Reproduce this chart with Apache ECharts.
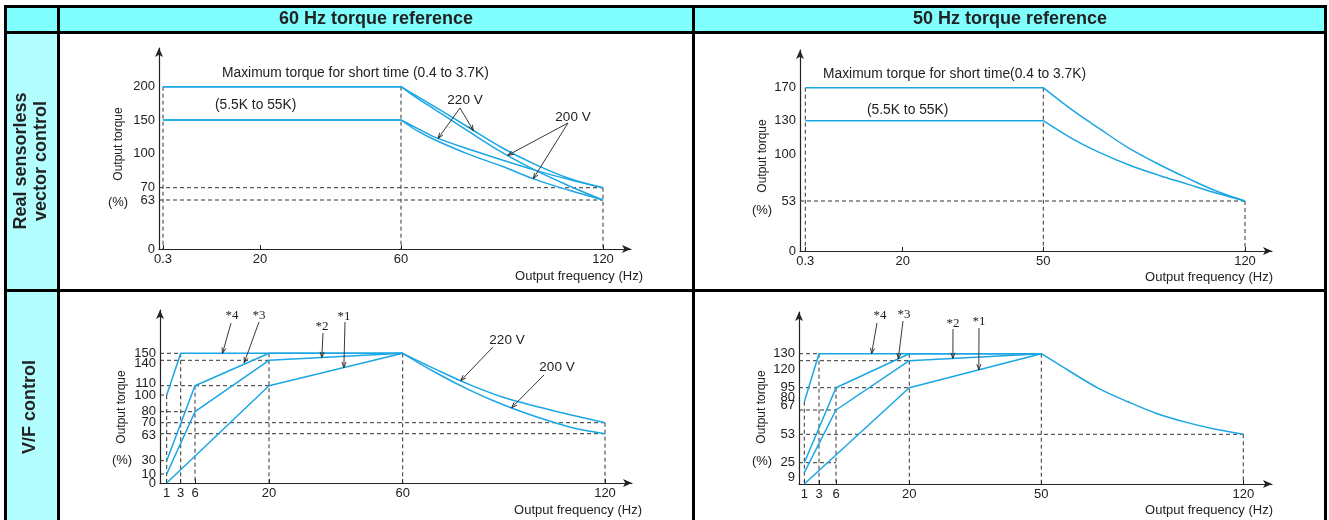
<!DOCTYPE html>
<html>
<head>
<meta charset="utf-8">
<script src="https://cdn.jsdelivr.net/npm/echarts@6/dist/echarts.min.js"></script>
<style>
html, body { margin: 0; padding: 0; background: #fff; }
#chart { width: 1329px; height: 520px; }
</style>
</head>
<body>
<div id="chart"></div>
<script>
// ---- data: output frequency (Hz) / output torque (%) ----
// real sensorless vector control, 60 Hz torque reference
var rsv60Freq = [0.3, 20, 60, 120];
var rsv60Torque = [0, 63, 70, 100, 150, 200];
var rsv60Max220 = [[0.3, 200], [60, 200], [65, 185], [70, 170], [80, 139], [90, 108], [100, 90], [110, 78], [120, 70]];
var rsv60Max200 = [[0.3, 200], [60, 200], [65, 182], [70, 166], [80, 133], [90, 101], [100, 85], [110, 71.5], [120, 63]];
var rsv60Std220 = [[0.3, 150], [60, 150], [65, 137], [70, 124], [80, 106], [90, 94], [100, 85], [110, 77], [120, 70]];
var rsv60Std200 = [[0.3, 150], [60, 150], [65, 133], [70, 120], [80, 99], [90, 88.5], [100, 77], [110, 68.5], [120, 63]];
var rsv60HGuide = [[70, 120], [63, 120]];
var rsv60VGuide = [[0.3, 200], [60, 200], [120, 70]];

// real sensorless vector control, 50 Hz torque reference
var rsv50Freq = [0.3, 20, 50, 120];
var rsv50Torque = [0, 53, 100, 130, 170];
var rsv50Max = [[0.3, 170], [50, 170], [60, 143], [70, 122], [80, 105], [90, 90], [100, 76], [110, 63], [120, 53]];
var rsv50Std = [[0.3, 130], [50, 130], [60, 114], [70, 101], [80, 89], [90, 79], [100, 70], [110, 61], [120, 53]];
var rsv50HGuide = [[53, 120]];
var rsv50VGuide = [[0.3, 170], [50, 170], [120, 53]];

// V/F control, 60 Hz torque reference
var vf60Freq = [1, 3, 6, 20, 60, 120];
var vf60Torque = [0, 10, 30, 63, 70, 80, 100, 110, 140, 150];
var vf60Boost4 = [[1, 100], [3, 150], [60, 150]];
var vf60Boost3 = [[1, 30], [6, 110], [20, 150], [60, 150]];
var vf60Boost2 = [[1, 10], [6, 80], [20, 140], [60, 150]];
var vf60Boost1 = [[1, 0], [20, 110], [60, 150]];
var vf60At220 = [[60, 150], [70, 129], [80, 111], [90, 97], [100, 86], [110, 77], [120, 70]];
var vf60At200 = [[60, 150], [70, 125], [80, 105], [90, 88], [100, 75], [110, 67], [120, 63]];
var vf60HGuide = [[150, 3], [140, 20], [110, 20], [100, 1], [80, 6], [70, 120], [63, 120], [30, 1], [10, 1]];
var vf60VGuide = [[1, 100], [3, 150], [6, 110], [20, 150], [60, 150], [120, 70]];

// V/F control, 50 Hz torque reference
var vf50Freq = [1, 3, 6, 20, 50, 120];
var vf50Torque = [9, 25, 53, 67, 80, 95, 120, 130];
var vf50Boost4 = [[1, 80], [3, 130], [50, 130]];
var vf50Boost3 = [[1, 25], [6, 95], [20, 130], [50, 130]];
var vf50Boost2 = [[1, 9], [6, 67], [20, 120], [50, 130]];
var vf50Boost1 = [[1, 0], [20, 95], [50, 130]];
var vf50Decay = [[50, 130], [60, 110], [70, 94], [80, 80], [90, 65], [100, 60], [110, 56], [120, 53]];
var vf50HGuide = [[130, 3], [120, 20], [95, 20], [67, 6], [53, 120], [25, 6]];
var vf50VGuide = [[1, 80], [3, 130], [6, 95], [20, 130], [50, 130], [120, 53]];

var panels = [
    { freq: rsv60Freq, torque: rsv60Torque, knee: 60, curves: [rsv60Max220, rsv60Max200, rsv60Std220, rsv60Std200], hGuide: rsv60HGuide, vGuide: rsv60VGuide },
    { freq: rsv50Freq, torque: rsv50Torque, knee: 50, curves: [rsv50Max, rsv50Std], hGuide: rsv50HGuide, vGuide: rsv50VGuide },
    { freq: vf60Freq, torque: vf60Torque, knee: 60, curves: [vf60Boost4, vf60Boost3, vf60Boost2, vf60Boost1, vf60At220, vf60At200], hGuide: vf60HGuide, vGuide: vf60VGuide },
    { freq: vf50Freq, torque: vf50Torque, knee: 50, curves: [vf50Boost4, vf50Boost3, vf50Boost2, vf50Boost1, vf50Decay], hGuide: vf50HGuide, vGuide: vf50VGuide }
];

// ---- layout: the drawing uses a schematic (piecewise) scale, tick positions in px from the origin ----
var layout = [
    { left: 159, top: 48, width: 472, height: 201, fp: [4, 101, 242, 444], tp: [0, 49, 61.3, 96, 129, 162.3], shift: {} },
    { left: 800, top: 50, width: 472, height: 201, fp: [5.3, 102.7, 243.3, 445], tp: [0, 50, 96.7, 130.3, 163.3], shift: {} },
    { left: 160, top: 310, width: 472, height: 173, fp: [6.7, 20.7, 35, 109, 242.7, 445], tp: [0, 9, 22.3, 49.3, 60.3, 71.3, 88, 97.3, 122.7, 129.7], shift: { 140: 3.5, 110: -2.5, 63: 1.5 } },
    { left: 799, top: 312, width: 473, height: 172, fp: [5.3, 20, 37, 110.3, 242.3, 444.3], tp: [11.3, 21.3, 49.7, 74, 82.3, 96.3, 123.3, 130.3], shift: { 120: 9, 80: -4.5, 67: -5, 9: 5 } }
];

var FONT = '"Liberation Sans", Arial, sans-serif';
var INK = '#222';
var CURVE = '#1aa6e4';

function scaleFn(vals, pos) {
    var v = vals.slice(), p = pos.slice();
    if (v[0] !== 0) { v.unshift(0); p.unshift(0); }
    return function (x) {
        var i = 1;
        while (i < v.length - 1 && x > v[i]) i++;
        return p[i - 1] + (x - v[i - 1]) * (p[i] - p[i - 1]) / (v[i] - v[i - 1]);
    };
}
function nearest(arr, val) {
    var k = 0;
    for (var i = 1; i < arr.length; i++) if (Math.abs(arr[i] - val) < Math.abs(arr[k] - val)) k = i;
    return k;
}

var grids = [], xAxes = [], yAxes = [], series = [];
panels.forEach(function (pn, i) {
    var L = layout[i];
    var sx = scaleFn(pn.freq, L.fp), sy = scaleFn(pn.torque, L.tp);
    pn.sx = sx; pn.sy = sy;
    var labelPos = pn.torque.map(function (t, k) { return L.tp[k] - (L.shift[t] || 0); });
    grids.push({ left: L.left, top: L.top, width: L.width, height: L.height, outerBoundsMode: 'none', containLabel: false });
    xAxes.push({
        type: 'value', gridIndex: i, min: 0, max: L.width,
        axisLine: { show: true, symbol: ['none', 'arrow'], symbolSize: [6, 9], lineStyle: { color: INK, width: 1.2 } },
        axisTick: { show: true, inside: true, length: 4, customValues: L.fp, lineStyle: { color: INK } },
        axisLabel: {
            customValues: L.fp, margin: 4, color: INK, fontSize: 13, fontFamily: FONT,
            showMinLabel: true, showMaxLabel: true, hideOverlap: false,
            formatter: function (v) { return String(pn.freq[nearest(L.fp, v)]); }
        },
        splitLine: { show: false }
    });
    // torque labels are split over two stacked axes (even / odd ticks) so the crowded ones all stay visible
    [0, 1].forEach(function (parity) {
        var vals = labelPos.filter(function (p, k) { return k % 2 === parity; });
        yAxes.push({
            type: 'value', gridIndex: i, min: 0, max: L.height, position: 'left', offset: 0,
            axisLine: parity === 0
                ? { show: true, symbol: ['none', 'arrow'], symbolSize: [6, 9], lineStyle: { color: INK, width: 1.2 } }
                : { show: false },
            axisTick: { show: false },
            axisLabel: {
                customValues: vals, margin: 4, color: INK, fontSize: 13, fontFamily: FONT,
                showMinLabel: true, showMaxLabel: true, hideOverlap: false,
                formatter: function (v) { return String(pn.torque[nearest(labelPos, v)]); }
            },
            splitLine: { show: false }
        });
    });
    var yi = 2 * i;
    pn.yIndex = yi;
    function tr(d) { return [sx(d[0]), sy(d[1])]; }
    pn.hGuide.forEach(function (h) {
        series.push({ type: 'line', xAxisIndex: i, yAxisIndex: yi, data: [[0, sy(h[0])], [sx(h[1]), sy(h[0])]],
            symbol: 'none', silent: true, z: 1, lineStyle: { color: '#333', width: 1, type: [4, 3] } });
    });
    pn.vGuide.forEach(function (v) {
        series.push({ type: 'line', xAxisIndex: i, yAxisIndex: yi, data: [[sx(v[0]), sy(v[1])], [sx(v[0]), 0]],
            symbol: 'none', silent: true, z: 1, lineStyle: { color: '#333', width: 1, type: [4, 3] } });
    });
    pn.curves.forEach(function (c) {
        var pre = c.filter(function (d) { return d[0] <= pn.knee; });
        var post = c.filter(function (d) { return d[0] >= pn.knee; });
        if (pre.length > 1) series.push({ type: 'line', xAxisIndex: i, yAxisIndex: yi, data: pre.map(tr), symbol: 'none', silent: true, z: 3, lineStyle: { color: CURVE, width: 1.5 } });
        if (post.length > 1) series.push({ type: 'line', xAxisIndex: i, yAxisIndex: yi, data: post.map(tr), smooth: 0.35, symbol: 'none', silent: true, z: 3, lineStyle: { color: CURVE, width: 1.5 } });
    });
});

var chart = echarts.init(document.getElementById('chart'), null, { renderer: 'canvas', width: 1329, height: 520 });
chart.setOption({
    backgroundColor: '#fff',
    animation: false,
    grid: grids,
    xAxis: xAxes,
    yAxis: yAxes,
    series: series
});

// ---- annotations: label position in px, arrow tips on the curves in data units ----
var notes = [
    { g: 0, text: '220 V', serif: false, x: 465, y: 100, sx: 460, sy: 108, tips: [[71, 122], [81.5, 134]] },
    { g: 0, text: '200 V', serif: false, x: 573, y: 117, sx: 568, sy: 123, tips: [[91.7, 98], [99.3, 77.8]] },
    { g: 2, text: '*4', serif: true, x: 232, y: 316, sx: 231, sy: 323, tips: [[11.2, 150]] },
    { g: 2, text: '*3', serif: true, x: 259, y: 316, sx: 259, sy: 322, tips: [[15.3, 137]] },
    { g: 2, text: '*2', serif: true, x: 322, y: 327, sx: 323, sy: 333, tips: [[35.8, 144]] },
    { g: 2, text: '*1', serif: true, x: 344, y: 317, sx: 345, sy: 322, tips: [[42.4, 131.4]] },
    { g: 2, text: '220 V', serif: false, x: 507, y: 340, sx: 493, sy: 347, tips: [[77.2, 116]] },
    { g: 2, text: '200 V', serif: false, x: 557, y: 367, sx: 544, sy: 375, tips: [[92.3, 84.7]] },
    { g: 3, text: '*4', serif: true, x: 880, y: 316, sx: 877, sy: 323, tips: [[12.8, 130]] },
    { g: 3, text: '*3', serif: true, x: 904, y: 315, sx: 903, sy: 321, tips: [[17.9, 122.7]] },
    { g: 3, text: '*2', serif: true, x: 953, y: 324, sx: 953, sy: 329, tips: [[29.9, 123.3]] },
    { g: 3, text: '*1', serif: true, x: 979, y: 322, sx: 979, sy: 328, tips: [[35.8, 111.6]] }
];

function rect(x, y, w, h, fill, z) {
    return { type: 'rect', z: z, silent: true, shape: { x: x, y: y, width: w, height: h }, style: { fill: fill } };
}
function text(t, x, y, opt) {
    opt = opt || {};
    return {
        type: 'text', z: 20, silent: true, x: x, y: y, rotation: opt.rot || 0,
        style: {
            text: t, fill: INK, font: opt.font || ('13px ' + FONT),
            align: opt.align || 'center', verticalAlign: 'middle', lineHeight: opt.lh
        }
    };
}

var g = [];
// table cells
g.push(rect(5, 5, 1321, 28, '#80ffff', -5));
g.push(rect(5, 33, 54, 490, '#b3ffff', -5));
// table rules
g.push(rect(4, 5, 1323, 3, '#000', 30));
g.push(rect(4, 31, 1323, 3, '#000', 30));
g.push(rect(4, 289, 1323, 3, '#000', 30));
g.push(rect(4, 5, 3, 520, '#000', 30));
g.push(rect(57, 5, 3, 520, '#000', 30));
g.push(rect(692, 5, 3, 520, '#000', 30));
g.push(rect(1324, 5, 3, 520, '#000', 30));
// headers
g.push(text('60 Hz torque reference', 376, 19, { font: 'bold 18px ' + FONT }));
g.push(text('50 Hz torque reference', 1010, 19, { font: 'bold 18px ' + FONT }));
g.push(text('Real sensorless\nvector control', 31, 161, { font: 'bold 18px ' + FONT, rot: Math.PI / 2, lh: 20 }));
g.push(text('V/F control', 30, 407, { font: 'bold 18px ' + FONT, rot: Math.PI / 2 }));
// axis titles
[[119, 144, 118, 202], [763, 156, 762, 210], [122, 407, 122, 460], [762, 407, 762, 461]].forEach(function (p) {
    g.push(text('Output torque', p[0], p[1], { rot: Math.PI / 2, font: '12px ' + FONT }));
    g.push(text('(%)', p[2], p[3]));
});
[[643, 276], [1273, 277], [642, 510], [1273, 510]].forEach(function (p) {
    g.push(text('Output frequency (Hz)', p[0], p[1], { align: 'right' }));
});
var NOTE_FONT = '13.8px ' + FONT;
g.push(text('Maximum torque for short time (0.4 to 3.7K)', 222, 73, { align: 'left', font: NOTE_FONT }));
g.push(text('(5.5K to 55K)', 215, 105, { align: 'left', font: NOTE_FONT }));
g.push(text('Maximum torque for short time(0.4 to 3.7K)', 823, 74, { align: 'left', font: NOTE_FONT }));
g.push(text('(5.5K to 55K)', 867, 110, { align: 'left', font: NOTE_FONT }));

notes.forEach(function (n) {
    var pn = panels[n.g];
    g.push(text(n.text, n.x, n.y, { font: n.serif ? '13px "Liberation Serif", serif' : '13.5px ' + FONT }));
    n.tips.forEach(function (t) {
        var p = chart.convertToPixel({ xAxisIndex: n.g, yAxisIndex: pn.yIndex }, [pn.sx(t[0]), pn.sy(t[1])]);
        var dx = p[0] - n.sx, dy = p[1] - n.sy, len = Math.sqrt(dx * dx + dy * dy);
        var ux = dx / len, uy = dy / len, a = 0.35, h = 6;
        var b1 = [p[0] - h * (ux * Math.cos(a) - uy * Math.sin(a)), p[1] - h * (uy * Math.cos(a) + ux * Math.sin(a))];
        var b2 = [p[0] - h * (ux * Math.cos(a) + uy * Math.sin(a)), p[1] - h * (uy * Math.cos(a) - ux * Math.sin(a))];
        g.push({ type: 'line', z: 20, silent: true, shape: { x1: n.sx, y1: n.sy, x2: p[0], y2: p[1] }, style: { stroke: INK, lineWidth: 0.9 } });
        g.push({ type: 'polyline', z: 20, silent: true, shape: { points: [b1, p, b2] }, style: { stroke: INK, lineWidth: 0.9, fill: null } });
    });
});

chart.setOption({ graphic: g });
</script>
</body>
</html>
